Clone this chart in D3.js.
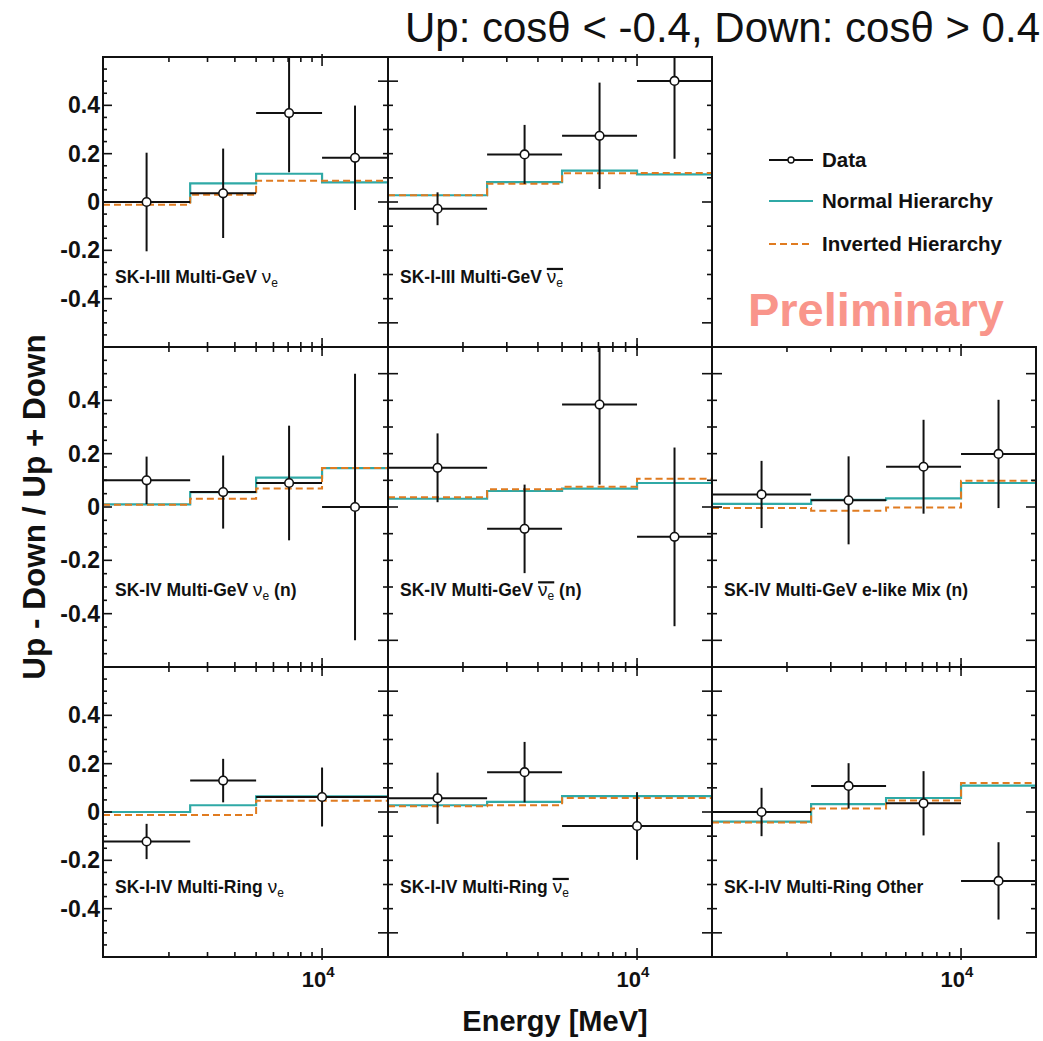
<!DOCTYPE html>
<html><head><meta charset="utf-8">
<script src="https://cdn.jsdelivr.net/npm/d3@7"></script>
<style>
body{margin:0;background:#fff}
text{font-family:"Liberation Sans",Arial,Helvetica,sans-serif}
</style>
</head><body>
<svg id="c" width="1043" height="1041"></svg>
<script>
// ---------------- data ----------------
const titleText = "Up: cos\u03b8 < -0.4, Down: cos\u03b8 > 0.4";
const yAxisTitle = "Up - Down / Up + Down";
const xAxisTitle = "Energy [MeV]";
const legendLabels = ["Data", "Normal Hierarchy", "Inverted Hierarchy"];
const yTickLabels = ["-0.4", "-0.2", "0", "0.2", "0.4"];
const yTickValues = [-0.4, -0.2, 0, 0.2, 0.4];
const xMinorTicks = [2000, 3000, 4000, 5000, 6000, 7000, 8000, 9000];
const xMajorTicks = [10000];

const binEdges4 = [1000, 2500, 5000, 10000, 20000];
const binEdges3 = [1000, 2500, 5000, 20000];

// panels in reading order (index 2 = legend cell, no plot)
const panelPrefix = ["SK-I-III Multi-GeV ", "SK-I-III Multi-GeV ", null,
                     "SK-IV Multi-GeV ", "SK-IV Multi-GeV ", "SK-IV Multi-GeV e-like Mix (n)",
                     "SK-I-IV Multi-Ring ", "SK-I-IV Multi-Ring ", "SK-I-IV Multi-Ring Other"];
const panelNu = ["nu", "nubar", null, "nu", "nubar", null, "nu", "nubar", null];
const panelSuffix = ["", "", null, " (n)", " (n)", "", "", "", ""];
const panelBins = [4, 4, 0, 4, 4, 4, 3, 3, 4];

const dataY = [
  [0.0, 0.036, 0.368, 0.183],
  [-0.028, 0.197, 0.274, 0.501],
  null,
  [0.10, 0.056, 0.09, 0.0],
  [0.147, -0.082, 0.384, -0.112],
  [0.047, 0.025, 0.151, 0.199],
  [-0.122, 0.13, 0.062],
  [0.057, 0.165, -0.058],
  [0.0, 0.108, 0.036, -0.285]
];
const dataErr = [
  [0.204, 0.185, 0.245, 0.216],
  [0.068, 0.122, 0.22, 0.322],
  null,
  [0.089, 0.137, 0.215, 0.5],
  [0.129, 0.166, 0.30, 0.335],
  [0.126, 0.165, 0.176, 0.203],
  [0.073, 0.09, 0.122],
  [0.106, 0.125, 0.14],
  [0.10, 0.094, 0.133, 0.16]
];
const normalY = [
  [0.0, 0.077, 0.117, 0.081],
  [0.028, 0.082, 0.130, 0.114],
  null,
  [0.01, 0.056, 0.11, 0.146],
  [0.031, 0.06, 0.069, 0.09],
  [0.012, 0.027, 0.032, 0.09],
  [0.0, 0.028, 0.065],
  [0.028, 0.042, 0.066],
  [-0.04, 0.033, 0.058, 0.109]
];
const invertedY = [
  [-0.011, 0.03, 0.088, 0.088],
  [0.028, 0.076, 0.119, 0.12],
  null,
  [0.008, 0.031, 0.069, 0.146],
  [0.037, 0.067, 0.076, 0.106],
  [-0.004, -0.014, -0.002, 0.098],
  [-0.012, -0.012, 0.047],
  [0.024, 0.028, 0.058],
  [-0.043, 0.015, 0.048, 0.12]
];

// ---------------- layout ----------------
const colX = [103, 388, 712, 1036];
const rowY = [57, 347, 667, 957];
const NH_COLOR = "#2fa9a6";
const IH_COLOR = "#e07b20";
const svg = d3.select("#c");
const defs = svg.append("defs");

function drawPanel(i) {
  const col = i % 3, row = Math.floor(i / 3);
  const x0 = colX[col], x1 = colX[col + 1], y0 = rowY[row], y1 = rowY[row + 1];
  const x = d3.scaleLog().domain([1000, 20000]).range([x0, x1]);
  const y = d3.scaleLinear().domain([-0.6, 0.6]).range([y1, y0]);
  const edges = panelBins[i] === 3 ? binEdges3 : binEdges4;
  const g = svg.append("g");
  const cid = "clip" + i;
  defs.append("clipPath").attr("id", cid).append("rect")
    .attr("x", x0).attr("y", y0).attr("width", x1 - x0).attr("height", y1 - y0);
  const pg = g.append("g").attr("clip-path", `url(#${cid})`);

  const stepPts = vals => vals.map((v, k) => [edges[k], v]).concat([[edges[vals.length], vals[vals.length - 1]]]);
  const line = d3.line().x(d => x(d[0])).y(d => y(d[1])).curve(d3.curveStepAfter);
  pg.append("path").attr("d", line(stepPts(normalY[i])))
    .attr("fill", "none").attr("stroke", NH_COLOR).attr("stroke-width", 2.2);
  pg.append("path").attr("d", line(stepPts(invertedY[i])))
    .attr("fill", "none").attr("stroke", IH_COLOR).attr("stroke-width", 2)
    .attr("stroke-dasharray", "7,4");

  const pts = dataY[i].map((v, k) => ({
    lo: edges[k], hi: edges[k + 1], xc: Math.sqrt(edges[k] * edges[k + 1]), v, e: dataErr[i][k]
  }));
  const dg = pg.selectAll("g.pt").data(pts).join("g");
  dg.append("line").attr("x1", d => x(d.lo)).attr("x2", d => x(d.hi))
    .attr("y1", d => y(d.v)).attr("y2", d => y(d.v)).attr("stroke", "#111").attr("stroke-width", 2);
  dg.append("line").attr("x1", d => x(d.xc)).attr("x2", d => x(d.xc))
    .attr("y1", d => y(d.v - d.e)).attr("y2", d => y(d.v + d.e)).attr("stroke", "#111").attr("stroke-width", 2);
  dg.append("circle").attr("cx", d => x(d.xc)).attr("cy", d => y(d.v)).attr("r", 4.3)
    .attr("fill", "#fff").attr("stroke", "#111").attr("stroke-width", 1.6);

  // ticks
  const tk = g.append("g").attr("stroke", "#111").attr("stroke-width", 1.6);
  xMinorTicks.forEach(t => {
    tk.append("line").attr("x1", x(t)).attr("x2", x(t)).attr("y1", y1).attr("y2", y1 - 5);
    tk.append("line").attr("x1", x(t)).attr("x2", x(t)).attr("y1", y0).attr("y2", y0 + 5);
  });
  xMajorTicks.forEach(t => {
    tk.append("line").attr("x1", x(t)).attr("x2", x(t)).attr("y1", y1 + 3).attr("y2", y1 - 9);
    tk.append("line").attr("x1", x(t)).attr("x2", x(t)).attr("y1", y0 - 3).attr("y2", y0 + 9);
  });
  const fine = d3.range(-11, 12).map(k => k * 0.05);
  const tenth = d3.range(-5, 6).map(k => k * 0.1);
  if (col === 0) {
    fine.forEach(v => {
      const major = Math.abs(Math.round(v * 100) % 20) === 0;
      tk.append("line").attr("x1", x0).attr("x2", x0 + (major ? 9 : 4)).attr("y1", y(v)).attr("y2", y(v));
    });
  } else {
    tenth.forEach(v => {
      const major = Math.abs(Math.round(v * 10) % 5) === 0;
      tk.append("line").attr("x1", x0).attr("x2", x0 + (major ? 10 : 5)).attr("y1", y(v)).attr("y2", y(v));
    });
  }
  tenth.forEach(v => {
    const major = Math.abs(Math.round(v * 10) % 5) === 0;
    tk.append("line").attr("x1", x1).attr("x2", x1 - (major ? 10 : 5)).attr("y1", y(v)).attr("y2", y(v));
  });

  // frame
  g.append("rect").attr("x", x0).attr("y", y0).attr("width", x1 - x0).attr("height", y1 - y0)
    .attr("fill", "none").attr("stroke", "#111").attr("stroke-width", 2);

  if (col === 0) {
    g.selectAll("text.yl").data(yTickValues).join("text")
      .attr("x", x0 - 3).attr("y", d => y(d) + 8).attr("text-anchor", "end")
      .attr("font-size", 23).attr("font-weight", "bold").attr("fill", "#111")
      .text((d, k) => yTickLabels[k]);
  }
  if (row === 2) {
    const t = g.append("text").attr("x", x(10000) - 4).attr("y", y1 + 30)
      .attr("text-anchor", "middle").attr("font-size", 22).attr("font-weight", "bold").attr("fill", "#111");
    t.append("tspan").text("10");
    t.append("tspan").attr("font-size", 15).attr("dy", -10).text("4");
  }

  // panel label
  const lab = g.append("text").attr("x", x0 + 12).attr("y", y(-0.335))
    .attr("font-size", 17.5).attr("font-weight", "bold").attr("fill", "#111");
  lab.append("tspan").text(panelPrefix[i]);
  if (panelNu[i]) {
    lab.append("tspan").attr("font-weight", "normal").attr("font-size", 19).text("\u03bd");
    lab.append("tspan").attr("font-weight", "normal").attr("font-size", 12).attr("dy", 4).text("e");
    if (panelSuffix[i]) lab.append("tspan").attr("dy", -4).text(panelSuffix[i]);
    if (panelNu[i] === "nubar") {
      const n = panelPrefix[i].length;
      const a = lab.node().getExtentOfChar(n);
      const b = lab.node().getExtentOfChar(n + 1);
      g.append("line").attr("x1", a.x).attr("x2", b.x + b.width)
        .attr("y1", a.y + 3).attr("y2", a.y + 3).attr("stroke", "#111").attr("stroke-width", 2.2);
    }
  }
}

[0, 1, 3, 4, 5, 6, 7, 8].forEach(drawPanel);

// legend
const legY = [160, 201, 244];
svg.append("line").attr("x1", 769).attr("x2", 813).attr("y1", legY[0]).attr("y2", legY[0])
  .attr("stroke", "#111").attr("stroke-width", 2);
svg.append("circle").attr("cx", 791).attr("cy", legY[0]).attr("r", 3)
  .attr("fill", "#fff").attr("stroke", "#111").attr("stroke-width", 1.4);
svg.append("line").attr("x1", 769).attr("x2", 813).attr("y1", legY[1]).attr("y2", legY[1])
  .attr("stroke", NH_COLOR).attr("stroke-width", 2.2);
svg.append("line").attr("x1", 769).attr("x2", 813).attr("y1", legY[2]).attr("y2", legY[2])
  .attr("stroke", IH_COLOR).attr("stroke-width", 2).attr("stroke-dasharray", "7,4");
svg.selectAll("text.leg").data(legendLabels).join("text")
  .attr("x", 822).attr("y", (d, k) => legY[k] + 7)
  .attr("font-size", 20.5).attr("font-weight", "bold").attr("fill", "#111").text(d => d);

// Preliminary
svg.append("text").attr("x", 876).attr("y", 326).attr("text-anchor", "middle")
  .attr("font-size", 47).attr("font-weight", "bold").attr("fill", "#f9958b").text("Preliminary");

// title
svg.append("text").attr("x", 1040).attr("y", 42).attr("text-anchor", "end")
  .attr("font-size", 42).attr("fill", "#111").text(titleText);

// axis titles
svg.append("text").attr("transform", "translate(45,507) rotate(-90)").attr("text-anchor", "middle")
  .attr("font-size", 31.5).attr("font-weight", "bold").attr("fill", "#111").text(yAxisTitle);
svg.append("text").attr("x", 555).attr("y", 1031).attr("text-anchor", "middle")
  .attr("font-size", 29).attr("font-weight", "bold").attr("fill", "#111").text(xAxisTitle);
</script>
</body></html>
